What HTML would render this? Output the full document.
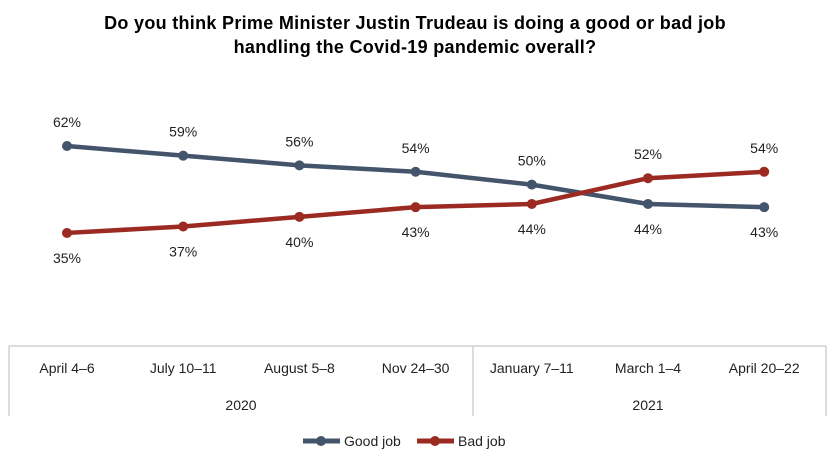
<!DOCTYPE html>
<html><head><meta charset="utf-8"><style>
body{margin:0;background:#fff;width:830px;height:460px;overflow:hidden}
svg{font-family:"Liberation Sans",sans-serif}
</style></head><body>
<svg width="830" height="460">
<text x="415" y="29" text-anchor="middle" font-size="18" letter-spacing="0.3" font-weight="bold" fill="#000">Do you think Prime Minister Justin Trudeau is doing a good or bad job</text>
<text x="415" y="53" text-anchor="middle" font-size="18" letter-spacing="0.3" font-weight="bold" fill="#000">handling the Covid-19 pandemic overall?</text>
<g id="axis">
<line x1="9" y1="346" x2="826" y2="346" stroke="#d0d0d0" stroke-width="1.5"/>
<line x1="9" y1="346" x2="9" y2="416" stroke="#d0d0d0" stroke-width="1.5"/>
<line x1="826" y1="346" x2="826" y2="416" stroke="#d0d0d0" stroke-width="1.5"/>
<line x1="473" y1="346" x2="473" y2="416" stroke="#d0d0d0" stroke-width="1.5"/>
<text x="241" y="410" text-anchor="middle" font-size="14" fill="#222">2020</text>
<text x="648" y="410" text-anchor="middle" font-size="14" fill="#222">2021</text>
</g>
<g id="plot"></g>
<g>
<line x1="303" y1="441" x2="340" y2="441" stroke="#44546a" stroke-width="5"/><circle cx="321" cy="441" r="5" fill="#44546a"/>
<text x="344" y="446" font-size="14" fill="#222">Good job</text>
<line x1="417" y1="441" x2="454" y2="441" stroke="#9b2a22" stroke-width="5"/><circle cx="435" cy="441" r="5" fill="#9b2a22"/>
<text x="458" y="446" font-size="14" fill="#222">Bad job</text>
</g>
</svg>
<script>
const categories=["April 4–6","July 10–11","August 5–8","Nov 24–30","January 7–11","March 1–4","April 20–22"];
const goodJob=[62,59,56,54,50,44,43];
const badJob=[35,37,40,43,44,52,54];
const NS="http://www.w3.org/2000/svg";
const plot=document.getElementById('plot');
const axis=document.getElementById('axis');
function xs(i){return 67+i*116.2;}
function ys(v){return 146+(62-v)*3.22;}
categories.forEach((c,i)=>{
 const t=document.createElementNS(NS,'text');
 t.setAttribute('x',xs(i));t.setAttribute('y',373);t.setAttribute('text-anchor','middle');
 t.setAttribute('font-size','14');t.setAttribute('fill','#222');t.textContent=c;
 
 
 axis.appendChild(t);
});
function series(vals,color,name,labelAbove){
 const p=document.createElementNS(NS,'polyline');
 p.setAttribute('points',vals.map((v,i)=>xs(i)+','+ys(v)).join(' '));
 p.setAttribute('fill','none');p.setAttribute('stroke',color);p.setAttribute('stroke-width','4.5');
 
 
 plot.appendChild(p);
 vals.forEach((v,i)=>{
  const c=document.createElementNS(NS,'circle');
  c.setAttribute('cx',xs(i));c.setAttribute('cy',ys(v));c.setAttribute('r',5);c.setAttribute('fill',color);
  
  
  plot.appendChild(c);
  const t=document.createElementNS(NS,'text');
  const above=labelAbove(i);
  t.setAttribute('x',xs(i));t.setAttribute('y',above?ys(v)-19:ys(v)+30);
  t.setAttribute('text-anchor','middle');t.setAttribute('font-size','14');t.setAttribute('fill','#222');
  t.textContent=v+'%';
  
  
  plot.appendChild(t);
 });
}
series(goodJob,'#44546a','good-job',i=>i<5);
series(badJob,'#9b2a22','bad-job',i=>i>=5);
</script>
</body></html>
